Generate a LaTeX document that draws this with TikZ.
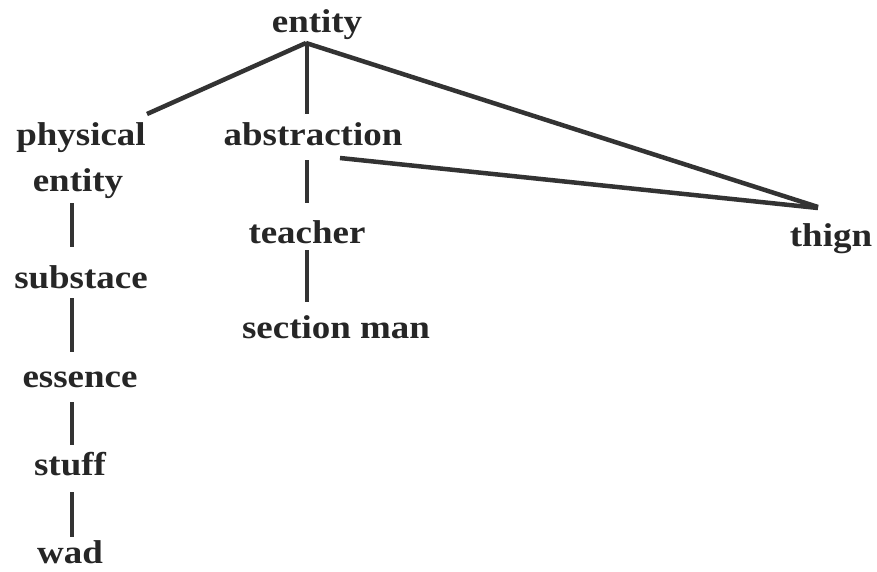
\documentclass[tikz,border=0pt]{standalone}
\usepackage{graphicx}
\usepackage{fontspec}
\newfontfamily\lblfamily{Liberation Serif}
\newcommand\stretchtxt[1]{\scalebox{1.12}[1]{#1}}
\usetikzlibrary{calc}
\definecolor{ink}{HTML}{262626}
\definecolor{edge}{HTML}{333333}
\begin{document}
\begin{tikzpicture}[x=1pt,y=-1pt,
  lbl/.style={anchor=base,inner sep=0pt,text=ink,font=\lblfamily\bfseries\fontsize{33}{36}\selectfont},
  slant/.style={draw=edge,line width=4.5pt},
  vert/.style={draw=edge,line width=4pt}]
\useasboundingbox[fill=white] (0,0) rectangle (877,571);
\node[lbl] (ent)   at (317,32)  {\stretchtxt{entity}};
\node[lbl] (phys)  at (81,145)  {\stretchtxt{physical}};
\node[lbl] (pe2)   at (78,191)  {\stretchtxt{entity}};
\node[lbl] (abs)   at (313,145) {\stretchtxt{abstraction}};
\node[lbl] (teach) at (307,243) {\stretchtxt{teacher}};
\node[lbl] (sec)   at (336,338) {\stretchtxt{section man}};
\node[lbl] (thign) at (831,246) {\stretchtxt{thign}};
\node[lbl] (sub)   at (81,288)  {\stretchtxt{substace}};
\node[lbl] (ess)   at (80,387)  {\stretchtxt{essence}};
\node[lbl] (stuff) at (70,475)  {\stretchtxt{stuff}};
\node[lbl] (wad)   at (70,563)  {\stretchtxt{wad}};
% slanted connectors
\draw[slant] ($(ent.base)+(-11,11)$) -- ($(phys.base)+(66,-31)$);
\draw[slant] ($(ent.base)+(-11,11)$) -- ($(thign.base)+(-13,-39)$);
\draw[slant] ($(abs.base)+(27,13)$) -- ($(thign.base)+(-13,-38)$);
% vertical connectors
\draw[vert] ($(ent.base)+(-10,10)$) -- ($(abs.base)+(-6,-31)$);
\draw[vert] ($(abs.base)+(-6,15)$) -- ($(teach.base)+(0,-40)$);
\draw[vert] ($(teach.base)+(0,7)$) -- ($(sec.base)+(-29,-36)$);
\draw[vert] ($(pe2.base)+(-6,12)$) -- ($(sub.base)+(-9,-41)$);
\draw[vert] ($(sub.base)+(-9,10)$) -- ($(ess.base)+(-8,-35)$);
\draw[vert] ($(ess.base)+(-8,15)$) -- ($(stuff.base)+(2,-30)$);
\draw[vert] ($(stuff.base)+(2,17)$) -- ($(wad.base)+(2,-26)$);
\end{tikzpicture}
\end{document}
